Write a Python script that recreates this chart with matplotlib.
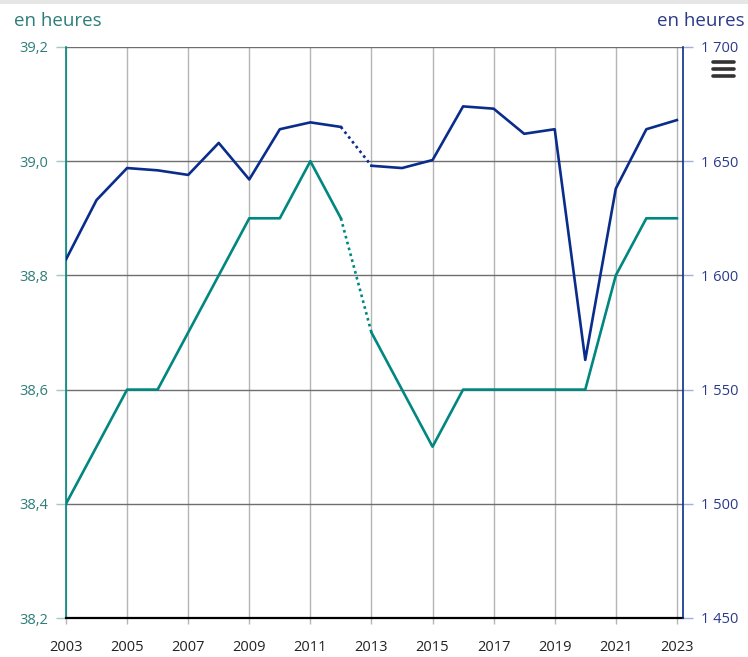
import numpy as np
import matplotlib
matplotlib.use("Agg")
import matplotlib.pyplot as plt
from matplotlib.lines import Line2D
from matplotlib.ticker import FuncFormatter

plt.rcParams["font.family"] = ["Open Sans", "DejaVu Sans"]

years = list(range(2003, 2024))
weekly = [38.4, 38.5, 38.6, 38.6, 38.7, 38.8, 38.9, 38.9, 39.0, 38.9, 38.7,
          38.6, 38.5, 38.6, 38.6, 38.6, 38.6, 38.6, 38.8, 38.9, 38.9]
annual = [1607, 1633, 1647, 1646, 1644, 1658, 1642, 1664, 1667, 1665, 1648,
          1647, 1650.5, 1674, 1673, 1662, 1664, 1563, 1638, 1664, 1668]
break_year = 2012  # series break between 2012 and 2013 -> dotted segment
year_ticks = list(range(2003, 2024, 2))

TEAL, BLUE = "#00877f", "#0a2d8c"
TEAL_TXT, BLUE_TXT = "#2d7d7a", "#2b3a8a"

fig = plt.figure(figsize=(7.48, 6.57), dpi=100)
ax = fig.add_axes([66 / 748, 1 - 618 / 657, (683 - 66) / 748, (618 - 47) / 657])
ax2 = ax.twinx()

x = np.array(years)
w = np.array(weekly); a = np.array(annual)
i = years.index(break_year)

ax.plot(x[:i + 1], w[:i + 1], color=TEAL, lw=1.9, zorder=3)
ax.plot(x[i + 1:], w[i + 1:], color=TEAL, lw=1.9, zorder=3)
ax.plot(x[i:i + 2], w[i:i + 2], color=TEAL, lw=1.9, ls=(0, (1, 1.3)), zorder=3)
ax2.plot(x[:i + 1], a[:i + 1], color=BLUE, lw=1.9, zorder=3)
ax2.plot(x[i + 1:], a[i + 1:], color=BLUE, lw=1.9, zorder=3)
ax2.plot(x[i:i + 2], a[i:i + 2], color=BLUE, lw=1.9, ls=(0, (1, 1.3)), zorder=3)

ax.set_xlim(2003, 2023.2)
ax.set_ylim(38.2, 39.2)
ax2.set_ylim(1450, 1700)
ax.set_yticks(np.arange(38.2, 39.21, 0.2))
ax2.set_yticks(range(1450, 1701, 50))
ax.set_xticks(year_ticks)

ax.yaxis.set_major_formatter(FuncFormatter(lambda v, _: f"{v:.1f}".replace(".", ",")))
ax2.yaxis.set_major_formatter(FuncFormatter(lambda v, _: f"{int(v):,}".replace(",", " ")))

ax.grid(axis="x", color="#b5b5b5", lw=1)
ax.grid(axis="y", color="#6e6e6e", lw=1)
ax.set_axisbelow(True)

for s in ["top", "bottom", "left", "right"]:
    ax.spines[s].set_visible(False)
    ax2.spines[s].set_visible(False)
ax.spines["left"].set_visible(True)
ax.spines["left"].set_color(TEAL)
ax.spines["left"].set_linewidth(1.2)
ax2.spines["right"].set_visible(True)
ax2.spines["right"].set_color(BLUE)
ax2.spines["right"].set_linewidth(1.2)
ax.spines["bottom"].set_visible(True)
ax.spines["bottom"].set_color("black")
ax.spines["bottom"].set_linewidth(1.6)

ax.tick_params(axis="y", colors=TEAL_TXT, labelsize=10.5, length=7, width=1, pad=6)
ax.tick_params(axis="y", color="#9fc9c6")
ax2.tick_params(axis="y", colors=BLUE_TXT, labelsize=10.5, length=7, width=1, pad=6)
ax2.tick_params(axis="y", color="#9fb0d8")
ax.tick_params(axis="x", length=4, width=1, color="#b5b5b5", pad=12, labelsize=10.5,
               labelcolor="#222222")

fig.text(14 / 748, 1 - 21 / 657, "en heures", color=TEAL_TXT, fontsize=13.5, va="center", ha="left")
fig.text(745 / 748, 1 - 21 / 657, "en heures", color=BLUE_TXT, fontsize=13.5, va="center", ha="right")

# top border strip and menu icon
fig.add_artist(plt.Rectangle((0, 1 - 4 / 657), 1, 4 / 657, transform=fig.transFigure,
                             color="#e6e6e6", lw=0))
for yy in (62, 69, 76):
    fig.add_artist(Line2D([713 / 748, 734 / 748], [1 - yy / 657] * 2, color="#333333",
                          lw=2.6, solid_capstyle="round", transform=fig.transFigure))

fig.savefig("out.png", dpi=100)
